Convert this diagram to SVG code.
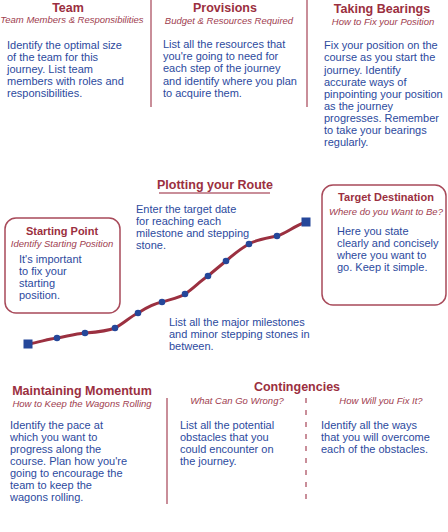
<svg xmlns="http://www.w3.org/2000/svg" width="448" height="532" viewBox="0 0 448 532">
<style>
.t{font-family:"Liberation Sans",Arial,sans-serif;font-weight:bold;font-size:12.5px;fill:#9b2f40;text-anchor:middle}
.s{font-family:"Liberation Sans",Arial,sans-serif;font-style:italic;font-size:9.5px;fill:#a0404f;text-anchor:middle}
.b{font-family:"Liberation Sans",Arial,sans-serif;font-size:11px;fill:#2c4a9e}
.sep{stroke:#c98e99;stroke-width:2;fill:none}
.box{fill:#fff;stroke:#a84a5a;stroke-width:1.5}
.dot{fill:#25479a}
</style>
<rect width="448" height="532" fill="#fff"/>
<g id="separators">
<line class="sep" x1="151" y1="0" x2="151" y2="107"/>
<line class="sep" x1="307" y1="0" x2="307" y2="107"/>
<line class="sep" x1="167" y1="398" x2="167" y2="504"/>
<line class="sep" x1="306" y1="398" x2="306" y2="500" stroke-dasharray="5 7" stroke-width="1.5"/>
<line class="sep" x1="159" y1="193" x2="270" y2="193"/>
</g>
<g id="team">
<text class="t" x="68" y="12">Team</text>
<text class="s" x="72" y="23">Team Members &amp; Responsibilities</text>
<text class="b" x="7"><tspan x="7" y="49">Identify the optimal size</tspan><tspan x="7" y="61">of the team for this</tspan><tspan x="7" y="73">journey. List team</tspan><tspan x="7" y="85">members with roles and</tspan><tspan x="7" y="97">responsibilities.</tspan></text>
</g>
<g id="provisions">
<text class="t" x="225" y="12">Provisions</text>
<text class="s" x="229" y="24">Budget &amp; Resources Required</text>
<text class="b"><tspan x="163" y="48">List all the resources that</tspan><tspan x="163" y="60">you're going to need for</tspan><tspan x="163" y="72">each step of the journey</tspan><tspan x="163" y="85">and identify where you plan</tspan><tspan x="163" y="97">to acquire them.</tspan></text>
</g>
<g id="bearings">
<text class="t" x="382" y="13">Taking Bearings</text>
<text class="s" x="383" y="25">How to Fix your Position</text>
<text class="b"><tspan x="324" y="49">Fix your position on the</tspan><tspan x="324" y="61">course as you start the</tspan><tspan x="324" y="74">journey.  Identify</tspan><tspan x="324" y="86">accurate ways of</tspan><tspan x="324" y="98">pinpointing your position</tspan><tspan x="324" y="110">as the journey</tspan><tspan x="324" y="122">progresses. Remember</tspan><tspan x="324" y="134">to take your bearings</tspan><tspan x="324" y="146">regularly.</tspan></text>
</g>
<g id="route">
<text class="t" x="215" y="189">Plotting your Route</text>
<text class="b"><tspan x="136" y="213">Enter the target date</tspan><tspan x="136" y="225">for reaching each</tspan><tspan x="136" y="237">milestone and stepping</tspan><tspan x="136" y="249">stone.</tspan></text>
<text class="b"><tspan x="169" y="326">List all the major milestones</tspan><tspan x="169" y="338">and minor stepping stones in</tspan><tspan x="169" y="350">between.</tspan></text>
</g>
<g id="connectors">
<path d="M28,344 C40,342 48,339 57,338 C68,336 75,334 85,333 C98,332 108,331 115,328 C124,323 130,317 138,313 C146,308 152,304 162,302 C172,299 179,298 185,294 C194,288 200,281 208,276 C215,270 220,266 226,261 C234,254 240,249 249,244 C258,239 268,238 277,236 C287,233 294,226 306,222" fill="none" stroke="#9b3040" stroke-width="3"/>
<rect class="dot" x="23.5" y="339.5" width="9" height="9"/>
<rect class="dot" x="301.5" y="217.5" width="9" height="9"/>
<circle class="dot" cx="57" cy="338" r="3.3"/>
<circle class="dot" cx="85" cy="333" r="3.3"/>
<circle class="dot" cx="115" cy="328" r="3.3"/>
<circle class="dot" cx="138" cy="313" r="3.3"/>
<circle class="dot" cx="162" cy="302" r="3.3"/>
<circle class="dot" cx="185" cy="294" r="3.3"/>
<circle class="dot" cx="208" cy="276" r="3.3"/>
<circle class="dot" cx="226" cy="261" r="3.3"/>
<circle class="dot" cx="249" cy="244" r="3.3"/>
<circle class="dot" cx="277" cy="236" r="3.3"/>
</g>
<g id="starting-point">
<rect class="box" x="5" y="218" width="115" height="95" rx="11"/>
<text class="t" x="62" y="235" style="font-size:11px">Starting Point</text>
<text class="s" x="62" y="247">Identify Starting Position</text>
<text class="b"><tspan x="19" y="263">It's important</tspan><tspan x="19" y="275">to fix your</tspan><tspan x="19" y="287">starting</tspan><tspan x="19" y="299">position.</tspan></text>
</g>
<g id="target-destination">
<rect class="box" x="322" y="185" width="124" height="120" rx="11"/>
<text class="t" x="386" y="201" style="font-size:11px">Target Destination</text>
<text class="s" x="386" y="215">Where do you Want to Be?</text>
<text class="b"><tspan x="337" y="235">Here you state</tspan><tspan x="337" y="247">clearly and concisely</tspan><tspan x="337" y="259">where you want to</tspan><tspan x="337" y="271">go.  Keep it simple.</tspan></text>
</g>
<g id="momentum">
<text class="t" x="82" y="395">Maintaining Momentum</text>
<text class="s" x="82" y="407">How to Keep the Wagons Rolling</text>
<text class="b"><tspan x="10" y="429">Identify the pace at</tspan><tspan x="10" y="441">which you want to</tspan><tspan x="10" y="453">progress along the</tspan><tspan x="10" y="465">course.  Plan how you're</tspan><tspan x="10" y="477">going to encourage the</tspan><tspan x="10" y="489">team to keep the</tspan><tspan x="10" y="501">wagons rolling.</tspan></text>
</g>
<g id="contingencies">
<text class="t" x="297" y="391">Contingencies</text>
<text class="s" x="237" y="404">What Can Go Wrong?</text>
<text class="s" x="381" y="404">How Will you Fix It?</text>
<text class="b"><tspan x="180" y="429">List all the potential</tspan><tspan x="180" y="441">obstacles that you</tspan><tspan x="180" y="453">could encounter on</tspan><tspan x="180" y="465">the journey.</tspan></text>
<text class="b"><tspan x="321" y="429">Identify all the ways</tspan><tspan x="321" y="441">that you will overcome</tspan><tspan x="321" y="453">each of the obstacles.</tspan></text>
</g>
</svg>
